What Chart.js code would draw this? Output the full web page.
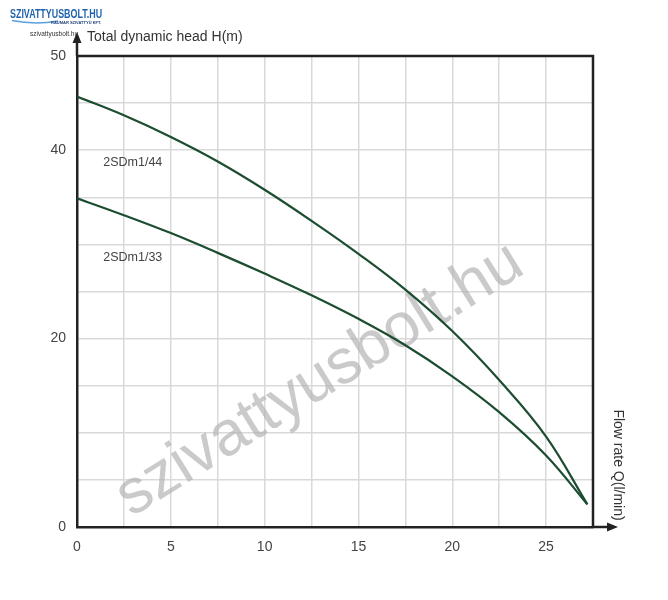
<!DOCTYPE html>
<html>
<head>
<meta charset="utf-8">
<script src="https://cdn.jsdelivr.net/npm/chart.js@4"></script>
<style>
  body { margin: 0; background: #fff; }
  #wrap { position: relative; width: 668px; height: 600px; }
</style>
</head>
<body>
<div id="wrap"><canvas id="pump" width="668" height="600"></canvas></div>
<script>
// flow rate Q (l/min) and head H (m)
const q44 = [0, 2.5, 5, 7.5, 10, 12.5, 15, 17.5, 20, 22.5, 25, 27.2];
const h44 = [45.7, 43.7, 41.4, 38.8, 35.8, 32.5, 29.0, 25.2, 20.8, 15.6, 9.6, 2.4];
const q33 = [0, 2.5, 5, 7.5, 10, 12.5, 15, 17.5, 20, 22.5, 25, 27.2];
const h33 = [34.9, 33.1, 31.2, 29.1, 26.9, 24.6, 22.1, 19.3, 16.0, 12.2, 7.6, 2.4];
const seriesNames = ['2SDm1/44', '2SDm1/33'];
// label anchor points (Q, H) for the series names
const labelQ = [1.4, 1.4];
const labelH = [38.7, 28.6];
const xLabelTicks = [0, 5, 10, 15, 20, 25];
const yLabelTicks = [0, 20, 40, 50];

const FONT = '"Liberation Sans", Arial, sans-serif';
const lineColor = '#1c4d30';

const toPoints = (xs, ys) => xs.map((x, i) => ({ x: x, y: ys[i] }));

const decor = {
    id: 'decor',
    beforeDatasetsDraw(chart) {
        const { ctx } = chart;
        // watermark
        ctx.save();
        ctx.translate(320, 380);
        ctx.rotate(-31.8 * Math.PI / 180);
        ctx.font = '63px ' + FONT;
        ctx.fillStyle = 'rgba(180,180,180,0.7)';
        ctx.textAlign = 'center';
        ctx.textBaseline = 'middle';
        ctx.fillText('szivattyusbolt.hu', 0, 0);
        ctx.restore();
    },
    afterDatasetsDraw(chart) {
        const { ctx, chartArea: a, scales } = chart;
        ctx.save();
        // box top + right
        ctx.strokeStyle = '#222';
        ctx.lineWidth = 2.5;
        ctx.beginPath();
        ctx.moveTo(a.left, a.top);
        ctx.lineTo(a.right, a.top);
        ctx.lineTo(a.right, a.bottom);
        ctx.stroke();
        // y axis arrow
        ctx.beginPath();
        ctx.moveTo(a.left, a.top);
        ctx.lineTo(a.left, a.top - 18);
        ctx.stroke();
        ctx.fillStyle = '#222';
        ctx.beginPath();
        ctx.moveTo(a.left, a.top - 24);
        ctx.lineTo(a.left - 4.5, a.top - 13);
        ctx.lineTo(a.left + 4.5, a.top - 13);
        ctx.closePath();
        ctx.fill();
        // x axis arrow
        ctx.beginPath();
        ctx.moveTo(a.right, a.bottom);
        ctx.lineTo(a.right + 18, a.bottom);
        ctx.stroke();
        ctx.beginPath();
        ctx.moveTo(a.right + 25, a.bottom);
        ctx.lineTo(a.right + 14, a.bottom - 4.5);
        ctx.lineTo(a.right + 14, a.bottom + 4.5);
        ctx.closePath();
        ctx.fill();

        // axis titles
        ctx.fillStyle = '#333';
        ctx.font = '14px ' + FONT;
        ctx.textBaseline = 'middle';
        ctx.textAlign = 'left';
        ctx.fillText('Total dynamic head H(m)', a.left + 10, a.top - 19);
        ctx.save();
        ctx.translate(a.right + 25, a.bottom - 62);
        ctx.rotate(Math.PI / 2);
        ctx.textAlign = 'center';
        ctx.fillText('Flow rate Q(l/min)', 0, 0);
        ctx.restore();

        // series names
        ctx.fillStyle = '#444';
        ctx.font = '12.5px ' + FONT;
        seriesNames.forEach((name, i) => {
            ctx.fillText(name, scales.x.getPixelForValue(labelQ[i]), scales.y.getPixelForValue(labelH[i]));
        });

        // logo
        ctx.save();
        ctx.translate(10, 18);
        ctx.scale(0.66, 1);
        ctx.font = 'bold 13.5px ' + FONT;
        ctx.fillStyle = '#1f63ad';
        ctx.textBaseline = 'alphabetic';
        ctx.fillText('SZIVATTYUSBOLT.HU', 0, 0);
        ctx.restore();
        ctx.strokeStyle = '#5aa0dc';
        ctx.lineWidth = 1.5;
        ctx.beginPath();
        ctx.moveTo(12, 20.5);
        ctx.quadraticCurveTo(35, 25, 58, 21);
        ctx.stroke();
        ctx.font = 'bold 4px ' + FONT;
        ctx.fillStyle = '#1f3f7a';
        ctx.textBaseline = 'alphabetic';
        ctx.fillText('RAUMAR SZIVATTYÚ KFT.', 51, 24);
        ctx.font = '6.5px ' + FONT;
        ctx.fillStyle = '#333';
        ctx.fillText('szivattyusbolt.hu', 30, 36);
        ctx.restore();
    }
};

new Chart(document.getElementById('pump'), {
    type: 'line',
    data: {
        datasets: [
            { label: seriesNames[0], data: toPoints(q44, h44) },
            { label: seriesNames[1], data: toPoints(q33, h33) }
        ].map(ds => Object.assign(ds, {
            borderColor: lineColor,
            borderWidth: 2.2,
            pointRadius: 0,
            fill: false,
            tension: 0.4
        }))
    },
    options: {
        responsive: false,
        animation: false,
        layout: { padding: { top: 56, right: 75, left: 0, bottom: 0 } },
        plugins: { legend: { display: false }, tooltip: { enabled: false } },
        scales: {
            x: {
                type: 'linear',
                min: 0,
                max: 27.5,
                afterFit: s => { s.height = 73; },
                afterBuildTicks: s => {
                    const t = [];
                    for (let v = 0; v <= 27.5; v += 2.5) t.push({ value: v });
                    s.ticks = t;
                },
                grid: { color: '#d9d9d9', lineWidth: 1.5, drawTicks: false },
                border: { color: '#222', width: 2.5 },
                ticks: {
                    padding: 12,
                    color: '#444',
                    font: { family: FONT, size: 14 },
                    maxRotation: 0,
                    autoSkip: false,
                    callback: v => xLabelTicks.includes(v) ? String(v) : ''
                }
            },
            y: {
                min: 0,
                max: 50,
                afterFit: s => { s.width = 77; },
                afterBuildTicks: s => {
                    const t = [];
                    for (let v = 0; v <= 50; v += 5) t.push({ value: v });
                    s.ticks = t;
                },
                grid: { color: '#d9d9d9', lineWidth: 1.5, drawTicks: false },
                border: { color: '#222', width: 2.5 },
                ticks: {
                    padding: 11,
                    color: '#444',
                    font: { family: FONT, size: 14 },
                    autoSkip: false,
                    callback: v => yLabelTicks.includes(v) ? String(v) : ''
                }
            }
        }
    },
    plugins: [decor]
});
</script>
</body>
</html>
